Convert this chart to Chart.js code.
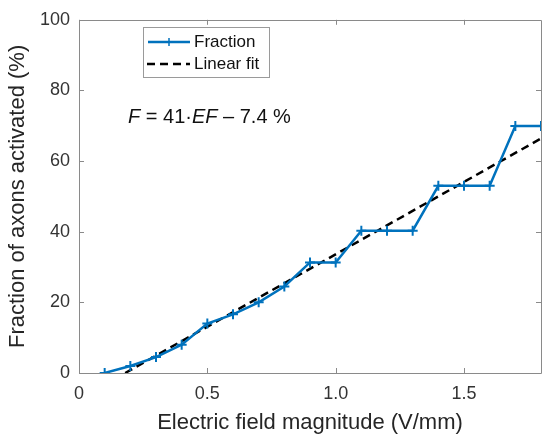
<!DOCTYPE html>
<html>
<head>
<meta charset="utf-8">
<script src="https://cdn.jsdelivr.net/npm/chart.js@4.4.0/dist/chart.umd.min.js"></script>
<style>
  html, body { margin: 0; padding: 0; background: #fff; overflow: hidden; }
  body { width: 547px; height: 437px; }
  #wrap { position: relative; width: 548px; height: 437px; }
</style>
</head>
<body>
<div id="wrap"><canvas id="chart"></canvas></div>
<script>
"use strict";

const fieldValues = [0.1, 0.2, 0.3, 0.4, 0.5, 0.6, 0.7, 0.8, 0.9, 1.0, 1.1, 1.2, 1.3, 1.4, 1.5, 1.6, 1.7, 1.8];
const fractionValues = [0, 2, 4.5, 8, 14, 16.6, 20, 24.5, 31.3, 31.3, 40.3, 40.3, 40.3, 53, 53, 53, 69.9, 69.9];
const fitX = [0.18, 1.8];
const fitY = [0, 66.4];
const xTicks = [0, 0.5, 1, 1.5];
const yTicks = [0, 20, 40, 60, 80, 100];
const seriesNames = ["Fraction", "Linear fit"];

const blue = "#0072BD";
const font = "'Liberation Sans', Arial, sans-serif";
const axisGray = "#333333";

const toPoints = (xs, ys) => xs.map((x, i) => ({ x, y: ys[i] }));

// frame + inward ticks, MATLAB style
const framePlugin = {
  id: "frame",
  beforeDatasetsDraw(chart) {
    const { ctx, chartArea: a, scales } = chart;
    ctx.save();
    ctx.strokeStyle = "#8a8a8a";
    ctx.lineWidth = 1;
    ctx.beginPath();
    ctx.rect(Math.round(a.left) + 0.5, Math.round(a.top) + 0.5, Math.round(a.right - a.left), Math.round(a.bottom - a.top));
    ctx.stroke();
    const len = 5;
    ctx.beginPath();
    scales.x.ticks.forEach((t) => {
      const px = Math.round(scales.x.getPixelForValue(t.value)) + 0.5;
      ctx.moveTo(px, a.bottom); ctx.lineTo(px, a.bottom - len);
      ctx.moveTo(px, a.top); ctx.lineTo(px, a.top + len);
    });
    scales.y.ticks.forEach((t) => {
      const py = Math.round(scales.y.getPixelForValue(t.value)) + 0.5;
      ctx.moveTo(a.left, py); ctx.lineTo(a.left + len, py);
      ctx.moveTo(a.right, py); ctx.lineTo(a.right - len, py);
    });
    ctx.stroke();
    ctx.restore();
  },
};

const legendPlugin = {
  id: "boxLegend",
  afterDraw(chart) {
    const { ctx } = chart;
    const bx = 143.5, by = 27.5, bw = 126, bh = 50;
    ctx.save();
    ctx.fillStyle = "#fff";
    ctx.fillRect(bx, by, bw, bh);
    ctx.strokeStyle = "#9a9a9a";
    ctx.lineWidth = 1;
    ctx.strokeRect(bx, by, bw, bh);

    // Fraction sample
    const y1 = 42, y2 = 64;
    ctx.strokeStyle = blue;
    ctx.lineWidth = 2.5;
    ctx.beginPath();
    ctx.moveTo(148, y1); ctx.lineTo(190, y1);
    ctx.stroke();
    ctx.lineWidth = 1.5;
    ctx.beginPath();
    ctx.moveTo(169, y1 - 4); ctx.lineTo(169, y1 + 4);
    ctx.moveTo(165, y1); ctx.lineTo(173, y1);
    ctx.stroke();

    // fit sample
    ctx.strokeStyle = "#000";
    ctx.lineWidth = 2.5;
    ctx.setLineDash([8, 5]);
    ctx.beginPath();
    ctx.moveTo(147, y2); ctx.lineTo(190, y2);
    ctx.stroke();
    ctx.setLineDash([]);

    ctx.fillStyle = "#111";
    ctx.font = `17px ${font}`;
    ctx.textBaseline = "middle";
    ctx.fillText(seriesNames[0], 194, y1);
    ctx.fillText(seriesNames[1], 194, y2);

    // equation
    const parts = [["F", true], [" = 41\u00b7", false], ["EF", true], [" \u2013 7.4 %", false]];
    let x = 128;
    const ey = 117;
    parts.forEach(([txt, italic]) => {
      ctx.font = `${italic ? "italic " : ""}20px ${font}`;
      ctx.fillText(txt, x, ey);
      x += ctx.measureText(txt).width;
    });
    ctx.restore();
  },
};

new Chart(document.getElementById("chart"), {
  type: "line",
  data: {
    datasets: [
      {
        label: seriesNames[0],
        data: toPoints(fieldValues, fractionValues),
        borderColor: blue,
        backgroundColor: blue,
        borderWidth: 2.5,
        pointStyle: "cross",
        pointRadius: 5,
        pointBorderWidth: 2,
        pointBorderColor: blue,
        tension: 0,
        order: 1,
      },
      {
        label: seriesNames[1],
        data: toPoints(fitX, fitY),
        borderColor: "#000",
        borderWidth: 2.5,
        borderDash: [8, 5],
        pointRadius: 0,
        tension: 0,
        order: 2,
      },
    ],
  },
  options: {
    responsive: true,
    maintainAspectRatio: false,
    animation: false,
    layout: { padding: { top: 14, right: 0, left: 0, bottom: 0 } },
    plugins: { legend: { display: false }, tooltip: { enabled: false } },
    scales: {
      x: {
        type: "linear",
        min: 0,
        max: 1.8,
        afterBuildTicks: (s) => { s.ticks = xTicks.map((value) => ({ value })); },
        afterFit: (s) => { s.height = 64; },
        grid: { display: false, drawTicks: false },
        border: { display: false },
        ticks: { padding: 10, color: axisGray, font: { family: font, size: 18 }, maxRotation: 0 },
        title: {
          display: true,
          text: "Electric field magnitude (V/mm)",
          color: "#262626",
          font: { family: font, size: 22 },
          padding: { top: 0, bottom: 1 },
        },
      },
      y: {
        type: "linear",
        min: 0,
        max: 100,
        afterBuildTicks: (s) => { s.ticks = yTicks.map((value) => ({ value })); },
        afterFit: (s) => { s.width = 79; },
        grid: { display: false, drawTicks: false },
        border: { display: false },
        ticks: { padding: 9, color: axisGray, font: { family: font, size: 18 } },
        title: {
          display: true,
          text: "Fraction of axons activated (%)",
          color: "#262626",
          font: { family: font, size: 22 },
          padding: { top: 5, bottom: 0 },
        },
      },
    },
  },
  plugins: [framePlugin, legendPlugin],
});
</script>
</body>
</html>
